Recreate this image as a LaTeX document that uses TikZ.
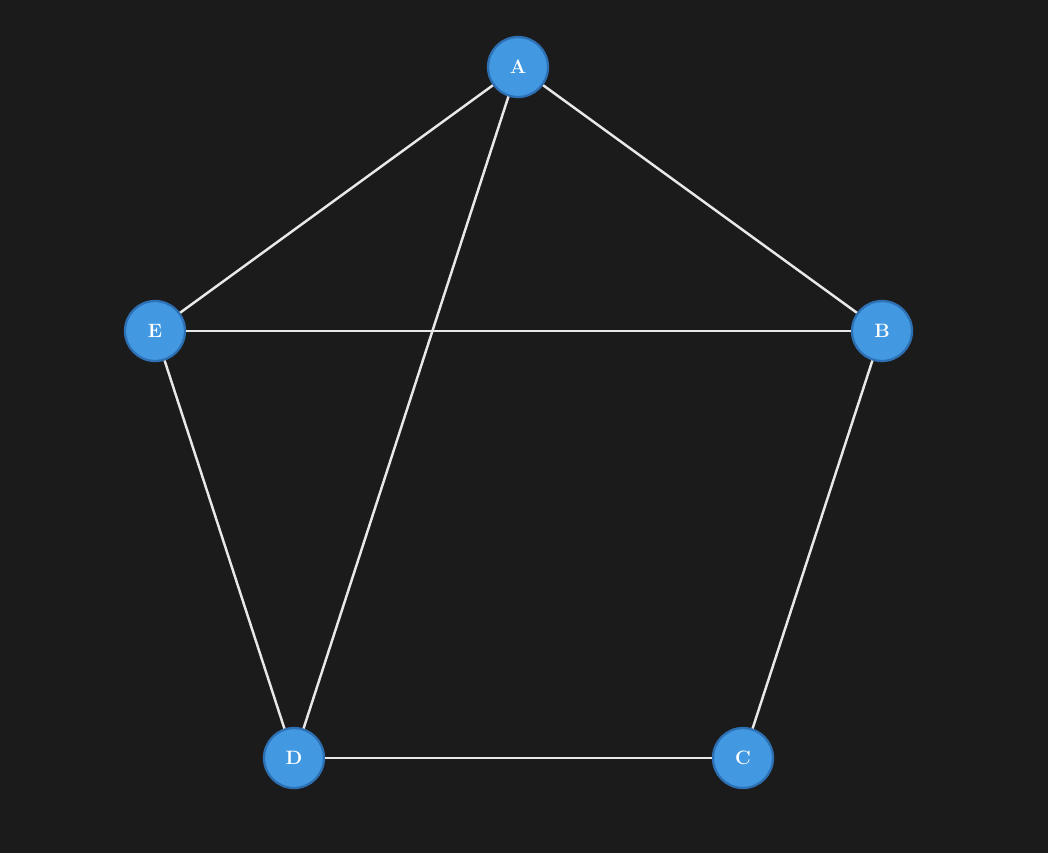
\documentclass[tikz,border=0pt]{standalone}
\definecolor{gBack}{RGB}{27,27,27}
\definecolor{gNode}{RGB}{66,153,225}
\definecolor{gRim}{RGB}{46,112,180}
\definecolor{gEdge}{RGB}{232,232,232}

\begin{document}
\begin{tikzpicture}[x=0.02cm, y=-0.02cm,
    vertex/.style={circle, fill=gNode, draw=gRim, line width=1.3pt,
      minimum size=1.2cm, inner sep=0pt, text=white,
      font=\fontsize{11}{13}\selectfont\bfseries},
    link/.style={draw=gEdge, line width=1.4pt}]

  % ---- background ----
  \fill[gBack] (0,0) rectangle (1048,853);
  \useasboundingbox (0,0) rectangle (1048,853);

  % ---- vertices ----
  \node[vertex] (A) at (518,67) {A};
  \node[vertex] (B) at (882,331) {B};
  \node[vertex] (C) at (743,758) {C};
  \node[vertex] (D) at (294,758) {D};
  \node[vertex] (E) at (155,331) {E};

  % ---- edges ----
  \path[link] (A) -- (E);
  \path[link] (A) -- (B);
  \path[link] (A) -- (D);
  \path[link] (E) -- (B);
  \path[link] (E) -- (D);
  \path[link] (B) -- (C);
  \path[link] (D) -- (C);

\end{tikzpicture}
\end{document}
